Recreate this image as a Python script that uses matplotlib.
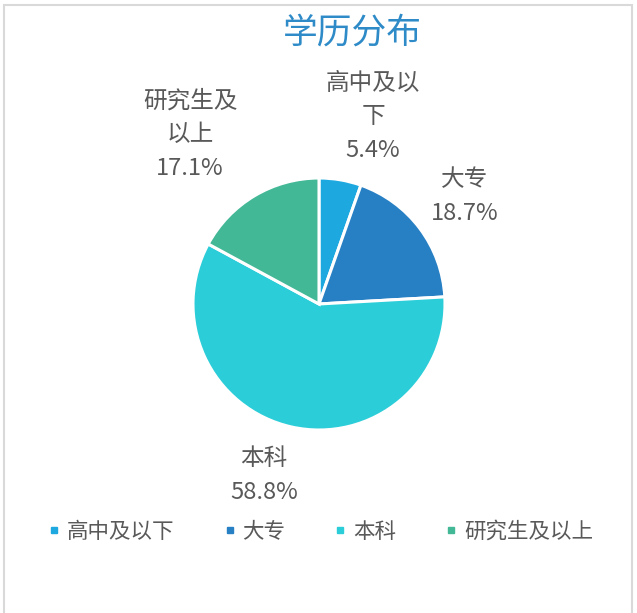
import matplotlib
matplotlib.use('Agg')
import matplotlib.pyplot as plt
import matplotlib.patches as mpatches
from matplotlib.lines import Line2D
import numpy as np

plt.rcParams['font.family'] = ['Noto Sans CJK SC', 'DejaVu Sans']

# Chart data
title = '学历分布'
categories = ['高中及以下', '大专', '本科', '研究生及以上']
label_texts = ['高中及以\n下', '大专', '本科', '研究生及\n以上']
shares = [5.4, 18.7, 58.8, 17.1]
colors = ['#1DA8E0', '#2780C4', '#2BCDD8', '#43B897']

# Label placement (radius multiples and angle nudges, degrees)
label_dist = [1.545, 1.44, 1.43, 1.69]
label_nudge = [-6.4, -0.5, -5.2, 6.5]

W, H = 637, 613
fig = plt.figure(figsize=(W / 100, H / 100), dpi=100)
fig.patch.set_facecolor('white')

# Pie axes: centre at (319, 304) px, radius 126 px
cx, cy, R = 319, 304, 126
half = 250
ax = fig.add_axes([(cx - half) / W, (H - cy - half) / H, 2 * half / W, 2 * half / H])

wedges, _ = ax.pie(shares, colors=colors, startangle=90, counterclock=False,
                   radius=1, wedgeprops=dict(edgecolor='white', linewidth=2.2))

# pie() resets the limits, so set them afterwards
ax.set_xlim(-half / R, half / R)
ax.set_ylim(-half / R, half / R)
ax.set_aspect('equal')
ax.axis('off')

for w, txt, pct, d, nudge in zip(wedges, label_texts, shares, label_dist, label_nudge):
    mid = np.deg2rad((w.theta1 + w.theta2) / 2 + nudge)
    ax.text(d * np.cos(mid), d * np.sin(mid), f'{txt}\n{pct:.1f}%',
            ha='center', va='center', fontsize=17, color='#595959',
            linespacing=1.6)

# Title
fig.text(352 / W, 1 - 33 / H, title, ha='center', va='center',
         fontsize=25, color='#2E8BC8')

# Legend
handles = [Line2D([], [], marker='s', linestyle='none', markersize=5,
                  markerfacecolor=c, markeredgecolor=c) for c in colors]
fig.legend(handles, categories, loc='center', bbox_to_anchor=(321 / W, 1 - 532 / H),
           ncol=4, frameon=False, fontsize=15.5, handlelength=0.5,
           handletextpad=0.35, columnspacing=2.3, labelcolor='#595959')

# Chart border
fig.add_artist(mpatches.Rectangle((4 / W, -0.1), 628 / W, (H - 5) / H + 0.1,
                                  transform=fig.transFigure, fill=False,
                                  edgecolor='#D9D9D9', linewidth=1.5))

fig.savefig('out.png', dpi=100, facecolor='white')
